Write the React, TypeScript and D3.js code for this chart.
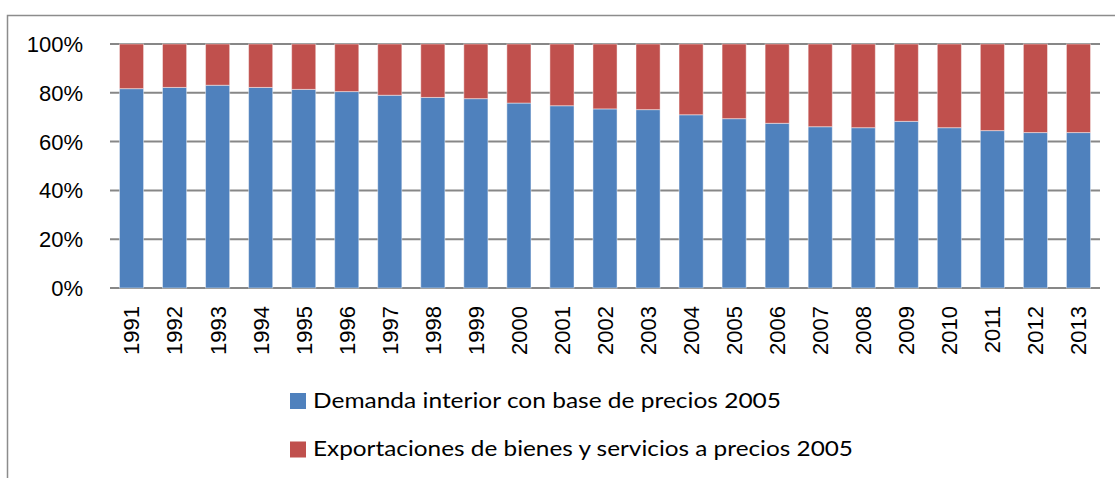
import { useEffect, useRef } from "react";
import * as d3 from "d3";

const years = [
    "1991", "1992", "1993", "1994", "1995", "1996", "1997", "1998", "1999", "2000", "2001", "2002",
    "2003", "2004", "2005", "2006", "2007", "2008", "2009", "2010", "2011", "2012", "2013",
];

// share of each series (percent)
const demanda = [
    81.7, 82.2, 83.1, 82.2, 81.4, 80.5, 79.0, 78.1, 77.6, 75.8, 74.7, 73.4,
    73.1, 71.0, 69.4, 67.5, 66.1, 65.7, 68.3, 65.7, 64.5, 63.7, 63.7,
];
const exportaciones = [
    18.3, 17.8, 16.9, 17.8, 18.6, 19.5, 21.0, 21.9, 22.4, 24.2, 25.3, 26.6,
    26.9, 29.0, 30.6, 32.5, 33.9, 34.3, 31.7, 34.3, 35.5, 36.3, 36.3,
];

const seriesNames = [
    "Demanda interior con base de precios 2005",
    "Exportaciones de bienes y servicios a precios 2005",
];
const yTicks = [0, 0.2, 0.4, 0.6, 0.8, 1];

export default function App() {
    const svgRef = useRef<SVGSVGElement>(null);

    useEffect(() => {
        const width = 1115;
        const height = 478;
        const svg = d3.select(svgRef.current);
        svg.selectAll("*").remove();

        const plot = { left: 110, right: 1100, top: 44, bottom: 288 };
        const colors = ["#4f81bd", "#c0504d"];

        // outer frame (cut off on the right and bottom)
        svg.append("path")
            .attr("d", `M7.5,${height} L7.5,15.5 L${width},15.5`)
            .attr("fill", "none")
            .attr("stroke", "#8c8c8c")
            .attr("stroke-width", 1.5);

        const rows = years.map((yr, i) => ({
            year: yr,
            demanda: demanda[i],
            exportaciones: exportaciones[i],
        }));

        const stacked = d3
            .stack<any>()
            .keys(["demanda", "exportaciones"])
            .offset(d3.stackOffsetExpand)(rows);

        const x = d3
            .scaleBand()
            .domain(years)
            .range([plot.left, plot.right])
            .paddingInner(0.44)
            .paddingOuter(0.22);

        const y = d3.scaleLinear().domain([0, 1]).range([plot.bottom, plot.top]);

        // gridlines
        svg.append("g")
            .selectAll("line")
            .data(yTicks)
            .enter()
            .append("line")
            .attr("x1", plot.left)
            .attr("x2", plot.right)
            .attr("y1", (d) => y(d))
            .attr("y2", (d) => y(d))
            .attr("stroke", "#878787")
            .attr("stroke-width", 2);

        // y labels
        svg.append("g")
            .selectAll("text")
            .data(yTicks)
            .enter()
            .append("text")
            .attr("x", 83)
            .attr("y", (d) => y(d))
            .attr("dy", "0.36em")
            .attr("text-anchor", "end")
            .style("font-family", "'Liberation Sans', Arial, sans-serif")
            .style("font-size", "22px")
            .attr("fill", "#000")
            .text((d) => d3.format(".0%")(d));

        // bars
        svg.append("g")
            .selectAll("g")
            .data(stacked)
            .enter()
            .append("g")
            .attr("fill", (_d, i) => colors[i])
            .selectAll("rect")
            .data((d) => d)
            .enter()
            .append("rect")
            .attr("x", (d: any) => x(d.data.year) || 0)
            .attr("width", x.bandwidth())
            .attr("y", (d) => y(d[1]))
            .attr("height", (d) => y(d[0]) - y(d[1]))
            .attr("stroke", "rgba(255,255,255,0.45)")
            .attr("stroke-width", 1);

        // x labels, rotated
        svg.append("g")
            .selectAll("text")
            .data(years)
            .enter()
            .append("text")
            .attr("transform", (d) => `translate(${(x(d) || 0) + x.bandwidth() / 2},306) rotate(-90)`)
            .attr("dy", "0.36em")
            .attr("text-anchor", "end")
            .style("font-family", "'Liberation Sans', Arial, sans-serif")
            .style("font-size", "22px")
            .attr("fill", "#000")
            .text((d) => d);

        // legend
        const legendLen = [468, 540];
        const legend = svg
            .append("g")
            .selectAll("g")
            .data(seriesNames)
            .enter()
            .append("g")
            .attr("transform", (_d, i) => `translate(290,${393 + i * 48.5})`);
        legend
            .append("rect")
            .attr("width", 16)
            .attr("height", 16)
            .attr("fill", (_d, i) => colors[i]);
        legend
            .append("text")
            .attr("x", 23)
            .attr("y", 14.5)
            .attr("textLength", (_d, i) => legendLen[i])
            .attr("lengthAdjust", "spacingAndGlyphs")
            .style("font-family", "Lato, 'Open Sans', sans-serif")
            .style("font-size", "21.5px")
            .attr("fill", "#000")
            .text((d) => d);
    }, []);

    return (
        <svg
            ref={svgRef}
            width={1115}
            height={478}
            style={{ position: "absolute", left: 0, top: 0, background: "#fff" }}
        />
    );
}
